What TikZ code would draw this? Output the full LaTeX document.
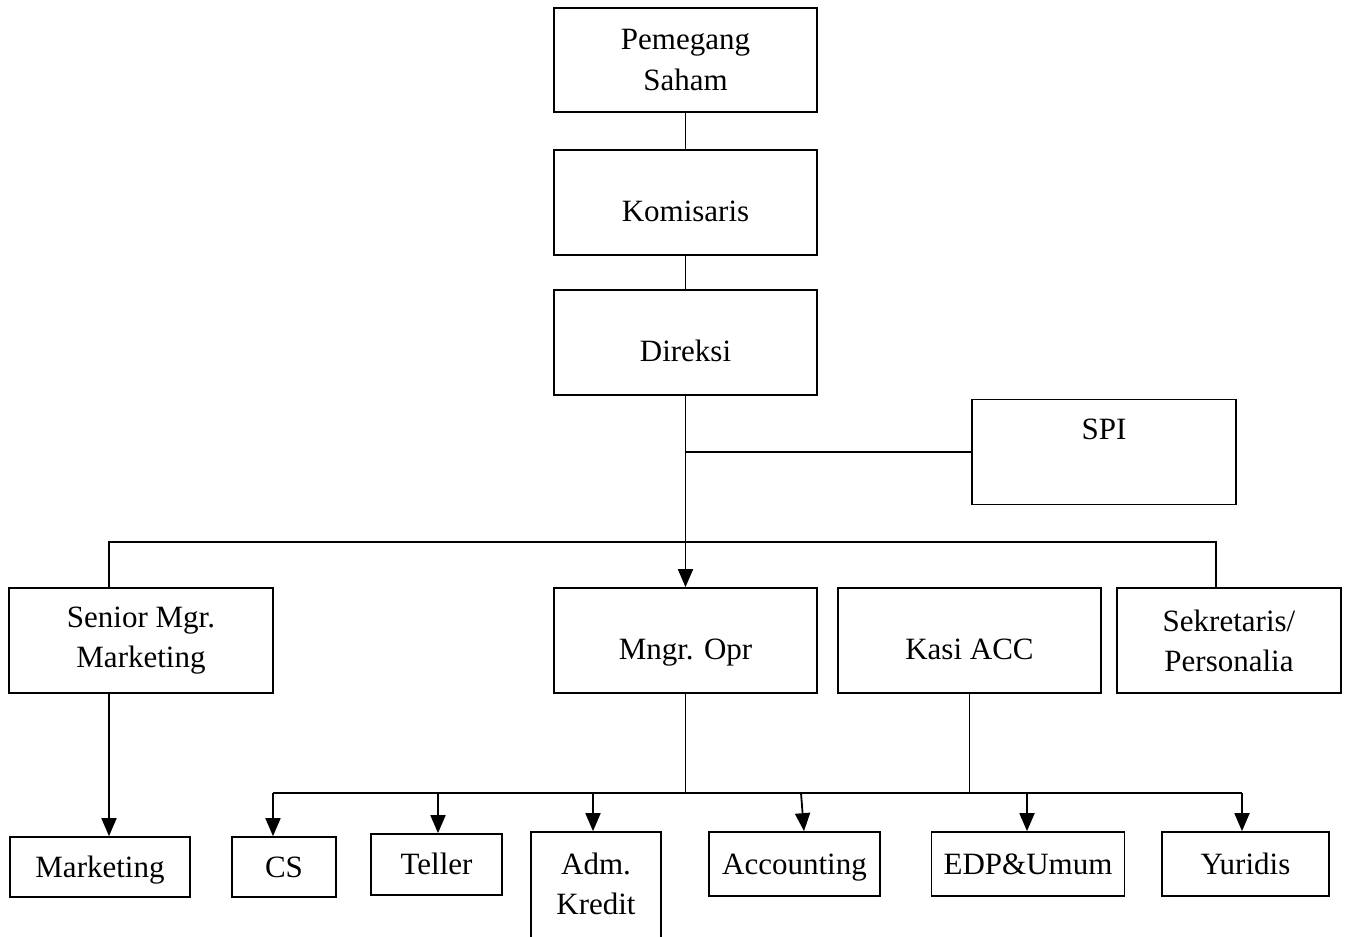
\documentclass[tikz,border=0pt]{standalone}
\usepackage{fontspec}
\setmainfont{Liberation Serif}
\usetikzlibrary{arrows.meta,calc}
\begin{document}
\begin{tikzpicture}[x=1pt,y=-1pt,
  box/.style={draw,line width=1.7pt,inner sep=0pt,align=center,font=\fontsize{31}{40}\selectfont},
  one/.style={text height=37pt,text depth=0pt},
  low/.style={text height=20pt,text depth=0pt},
  ln/.style={line width=1.8pt},
  arr/.style={line width=1.8pt,-{Triangle[length=18pt,width=15pt]}}]
\path[use as bounding box] (0,0) rectangle (1347,937);
\node[box,minimum width=263,minimum height=104] (ps) at (685.5,60) {Pemegang\\Saham};
\node[box,one,minimum width=263,minimum height=105] (kom) at (685.5,202.5) {Komisaris};
\node[box,one,minimum width=263,minimum height=105] (dir) at (685.5,342.5) {Direksi};
\node[box,minimum width=264,minimum height=105] (spi) at (1104,452) {};
\node[font=\fontsize{31}{40}\selectfont,anchor=base] (spit) at (1104,439) {SPI};
\node[box,minimum width=264,minimum height=105] (sm) at (141,640.5) {Senior Mgr.\\Marketing};
\node[box,one,minimum width=263,minimum height=105] (mo) at (685.5,640.5) {Mngr. Opr};
\node[box,one,minimum width=263,minimum height=105] (ka) at (969.5,640.5) {Kasi ACC};
\node[box,minimum width=224,minimum height=105] (sek) at (1229,640.5) {Sekretaris/\\Personalia};
\node[box,low,minimum width=180,minimum height=60] (mkt) at (100,867) {Marketing};
\node[box,low,minimum width=104,minimum height=60] (cs) at (284,867) {CS};
\node[box,low,minimum width=131,minimum height=61] (tel) at (436.5,864.5) {Teller};
\node[box,minimum width=130,minimum height=116] (adm) at (596,890) {};
\node[font=\fontsize{31}{40}\selectfont,align=center,inner sep=0pt] (admt) at (596,884) {Adm.\\Kredit};
\node[box,low,minimum width=171,minimum height=64] (acc) at (794.5,864) {Accounting};
\node[box,low,minimum width=193,minimum height=64] (edp) at (1028,864) {EDP\&Umum};
\node[box,low,minimum width=167,minimum height=64] (yur) at (1245.5,864) {Yuridis};
% top chain
\draw[ln] (ps) -- (kom);
\draw[ln] (kom) -- (dir);
\draw[arr] (dir.south) -- (mo.north);
\draw[ln] (spi.west) -- (spi.west -| dir.south);
% upper bar
\coordinate (barL) at (109,542);
\coordinate (barR) at (1216,542);
\draw[ln] (sm.north -| barL) -- (barL) -- (barR) -- (sek.north -| barR);
\draw[arr] (sm.south -| barL) -- (mkt.north -| barL);
% lower bar
\coordinate (bCS) at (273,793);
\coordinate (bTel) at (438,793);
\coordinate (bAdm) at (593,793);
\coordinate (bAcc) at (801,793);
\coordinate (bEdp) at (1027,793);
\coordinate (bYur) at (1242,793);
\draw[ln] (mo.south) -- (mo.south |- bCS);
\draw[ln] (ka.south) -- (ka.south |- bCS);
\draw[ln] (bCS) -- (bYur);
\draw[arr] (bCS) -- (bCS |- cs.north);
\draw[arr] (bTel) -- (bTel |- tel.north);
\draw[arr] (bAdm) -- (bAdm |- adm.north);
\draw[arr] (bAcc) -- ($(acc.north)+(9.5,0)$);
\draw[arr] (bEdp) -- (bEdp |- edp.north);
\draw[arr] (bYur) -- (bYur |- yur.north);
\end{tikzpicture}
\end{document}
